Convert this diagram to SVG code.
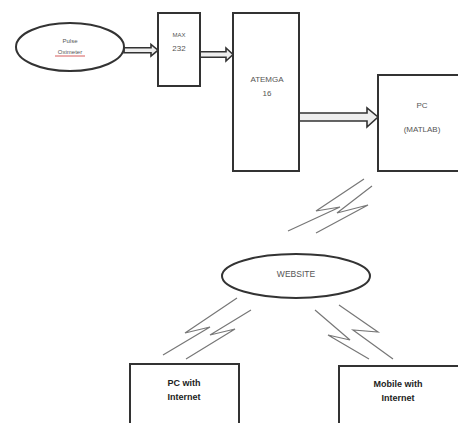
<svg xmlns="http://www.w3.org/2000/svg" width="458" height="423" viewBox="0 0 458 423">
<style>
.box{fill:#fff;stroke:#333;stroke-width:2}
.arr{fill:#eee;stroke:#333;stroke-width:1.6;stroke-linejoin:miter}
.bolt{fill:none;stroke:#777;stroke-width:1.2}
.t{font-family:"Liberation Sans",Arial,sans-serif;fill:#555;text-anchor:middle}
.b{font-family:"Liberation Sans",Arial,sans-serif;fill:#222;text-anchor:middle;font-weight:bold;font-size:9px}
</style>
<rect width="458" height="423" fill="#fff"/>
<g id="connectors">
<polygon class="arr" points="124,47.7 151,47.7 151,44.5 158,50.2 151,56 151,52.7 124,52.7"/>
<polygon class="arr" points="200,51.7 226,51.7 226,48 233,54.5 226,61 226,57.3 200,57.3"/>
<polygon class="arr" points="299,113 367,113 367,108 378,117 367,127 367,121 299,121"/>
<polyline class="bolt" points="364,179 316,211 340,207 288,231"/>
<polyline class="bolt" points="372,186 337,213 368,205 316,233"/>
<polyline class="bolt" points="237,298 185,333 210,327 163,355"/>
<polyline class="bolt" points="251,310 210,335 235,329 186,359"/>
<polyline class="bolt" points="315,310 350,340 328,335 369,359"/>
<polyline class="bolt" points="339,305 378,332 353,330 393,359"/>
</g>
<g id="pulse">
<ellipse class="box" cx="70" cy="47" rx="54" ry="24"/>
<text class="t" x="70" y="43" font-size="6">Pulse</text>
<text class="t" x="70" y="54" font-size="6" fill="#733">Oximeter</text>
<line x1="55" y1="56" x2="85" y2="56" stroke="#c33" stroke-width="0.8"/>
</g>
<g id="max232">
<rect class="box" x="158" y="13" width="42" height="73"/>
<text class="t" x="179" y="37" font-size="6">MAX</text>
<text class="t" x="179" y="51" font-size="8">232</text>
</g>
<g id="atmega">
<rect class="box" x="233" y="13" width="66" height="158"/>
<text class="t" x="267" y="82" font-size="8">ATEMGA</text>
<text class="t" x="267" y="96" font-size="8">16</text>
</g>
<g id="pc">
<rect class="box" x="378" y="75" width="82" height="96"/>
<text class="t" x="422" y="108" font-size="8">PC</text>
<text class="t" x="422" y="132" font-size="8">(MATLAB)</text>
</g>
<g id="website">
<ellipse class="box" cx="296" cy="276" rx="74" ry="22"/>
<text class="t" x="296" y="277" font-size="8.5">WEBSITE</text>
</g>
<g id="pcinternet">
<rect class="box" x="130" y="364" width="109" height="70"/>
<text class="b" x="184" y="386">PC with</text>
<text class="b" x="184" y="400">Internet</text>
</g>
<g id="mobile">
<rect class="box" x="339" y="366" width="121" height="70"/>
<text class="b" x="398" y="387">Mobile with</text>
<text class="b" x="398" y="401">Internet</text>
</g>
</svg>
